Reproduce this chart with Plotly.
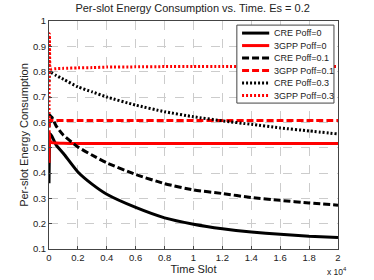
import plotly.graph_objects as go

t = [0, 30, 60, 100, 200, 500, 1000, 2000, 3000, 4000, 6000, 8000, 10000,
     12000, 14000, 16000, 18000, 20000]

cre_p0 = [0.36, 0.50, 0.555, 0.553, 0.545, 0.51, 0.477, 0.404, 0.355, 0.316,
          0.264, 0.223, 0.198, 0.18, 0.167, 0.158, 0.150, 0.145]
gpp_p0 = [0.44, 0.55, 0.53, 0.525, 0.52, 0.518, 0.517, 0.516, 0.516, 0.516,
          0.516, 0.516, 0.516, 0.516, 0.516, 0.516, 0.516, 0.516]
cre_p01 = [0.58, 0.62, 0.628, 0.625, 0.62, 0.585, 0.549, 0.503, 0.47, 0.44,
           0.394, 0.358, 0.333, 0.319, 0.303, 0.292, 0.282, 0.273]
gpp_p01 = [0.50, 0.62, 0.61, 0.607, 0.607, 0.607, 0.607, 0.607, 0.607, 0.607,
           0.607, 0.607, 0.607, 0.607, 0.607, 0.607, 0.607, 0.607]
cre_p03 = [0.76, 0.795, 0.80, 0.798, 0.795, 0.785, 0.77, 0.74, 0.72, 0.70,
           0.668, 0.642, 0.622, 0.606, 0.592, 0.578, 0.566, 0.554]
gpp_p03 = [0.60, 0.95, 0.82, 0.81, 0.81, 0.812, 0.813, 0.815, 0.816, 0.818,
           0.819, 0.82, 0.82, 0.82, 0.82, 0.82, 0.82, 0.82]

names = ["CRE Poff=0", "3GPP Poff=0", "CRE Poff=0.1", "3GPP Poff=0.1",
         "CRE Poff=0.3", "3GPP Poff=0.3"]
series = [cre_p0, gpp_p0, cre_p01, gpp_p01, cre_p03, gpp_p03]
colors = ["black", "red", "black", "red", "black", "red"]
dashes = ["solid", "solid", "7px,3px", "7px,3px", "2px,2px", "2px,2px"]

x_tickvals = [0, 2000, 4000, 6000, 8000, 10000, 12000, 14000, 16000, 18000, 20000]
x_ticktext = ["0", "0.2", "0.4", "0.6", "0.8", "1", "1.2", "1.4", "1.6", "1.8", "2"]
y_tickvals = [0.1, 0.2, 0.3, 0.4, 0.5, 0.6, 0.7, 0.8, 0.9, 1.0]
y_ticktext = ["0.1", "0.2", "0.3", "0.4", "0.5", "0.6", "0.7", "0.8", "0.9", "1"]

fig = go.Figure()
for name, ys, c, d in zip(names, series, colors, dashes):
    fig.add_trace(go.Scatter(x=t, y=ys, mode="lines", name=name, showlegend=False,
                             line=dict(color=c, width=3, dash=d, shape="spline", smoothing=0.5)))

font = "Liberation Sans, Arial, sans-serif"
fig.update_layout(
    template="none",
    width=374, height=280,
    margin=dict(l=49, r=36, t=21, b=31, autoexpand=False),
    paper_bgcolor="white", plot_bgcolor="white",
    font=dict(family=font, size=10, color="#222"),
    title=dict(text="Per-slot Energy Consumption vs. Time. Es = 0.2",
               x=0.515, xanchor="center", y=0.986, yanchor="top",
               font=dict(size=11, color="#222")),
    showlegend=False,
)
fig.update_xaxes(range=[0, 20000], tickvals=x_tickvals, ticktext=x_ticktext,
                 automargin=False,
                 showline=True, mirror=True, linecolor="#444", linewidth=1,
                 ticks="inside", ticklen=3, tickcolor="#444",
                 showgrid=True, gridcolor="#cccccc", griddash="dash", gridwidth=1,
                 zeroline=False, tickfont=dict(size=9.5),
                 title=dict(text="Time Slot", font=dict(size=11), standoff=0))
fig.update_yaxes(range=[0.1, 1.0], tickvals=y_tickvals, ticktext=y_ticktext,
                 automargin=False,
                 showline=True, mirror=True, linecolor="#444", linewidth=1,
                 ticks="inside", ticklen=3, tickcolor="#444",
                 showgrid=True, gridcolor="#cccccc", griddash="dash", gridwidth=1,
                 zeroline=False, tickfont=dict(size=9.5),
                 title=dict(text="Per-slot Energy Consumption", font=dict(size=11), standoff=2))
fig.add_annotation(text="x 10<sup>4</sup>", xref="paper", yref="paper",
                   x=0.995, y=-0.1, xanchor="center", yanchor="middle",
                   showarrow=False, font=dict(size=8.5, color="#222"))

# compact MATLAB-style legend box (paper coordinates)
lx0, lx1, ly0, ly1 = 0.650, 0.986, 0.640, 0.982
fig.add_shape(type="rect", xref="paper", yref="paper", x0=lx0, x1=lx1, y0=ly0, y1=ly1,
              fillcolor="white", line=dict(color="#444", width=1), layer="above")
row_top, row_step = 0.947, 0.0548
for i, (name, c, d) in enumerate(zip(names, colors, dashes)):
    yy = row_top - i * row_step
    fig.add_shape(type="line", xref="paper", yref="paper", x0=0.668, x1=0.762, y0=yy, y1=yy,
                  line=dict(color=c, width=3, dash=d), layer="above")
    fig.add_annotation(text=name, xref="paper", yref="paper", x=0.772, y=yy,
                       xanchor="left", yanchor="middle", showarrow=False,
                       font=dict(size=9, color="#222"))

fig.write_html("out.html", config={"displayModeBar": False},
               post_script="document.body.style.margin='0';")
